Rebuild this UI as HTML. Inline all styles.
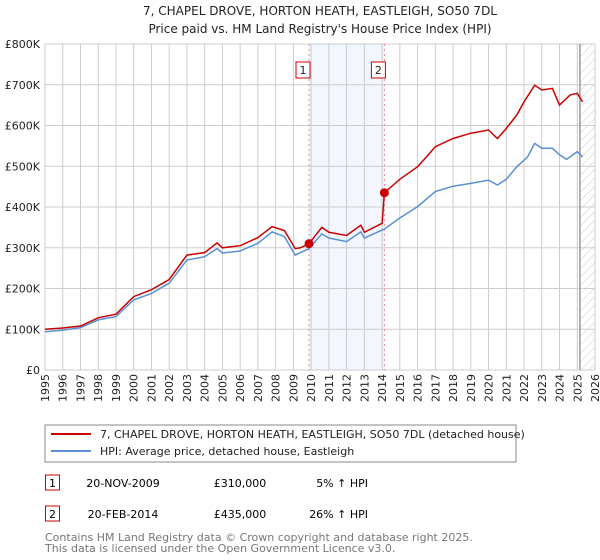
<!DOCTYPE html>
<html><head><meta charset="utf-8"><style>
body{margin:0;background:#fff;font-family:"DejaVu Sans","Liberation Sans",sans-serif;}
#wrap{position:relative;width:600px;height:560px;overflow:hidden}
svg text{font-family:"DejaVu Sans","Liberation Sans",sans-serif}
</style></head><body><div id="wrap">
<svg id="chart" width="600" height="560">
<defs><pattern id="hatch" width="6" height="6" patternUnits="userSpaceOnUse" patternTransform="rotate(45)"><line x1="0" y1="0" x2="0" y2="6" stroke="#ccc" stroke-width="1"/></pattern></defs>
<text x="320" y="15" font-size="12" text-anchor="middle" fill="#222">7, CHAPEL DROVE, HORTON HEATH, EASTLEIGH, SO50 7DL</text>
<text x="320" y="33" font-size="12" text-anchor="middle" fill="#222">Price paid vs. HM Land Registry's House Price Index (HPI)</text>
<g id="grid"></g><g id="marks"></g>
<rect x="45" y="425" width="471" height="37" fill="none" stroke="#888"/>
<line x1="51" y1="434" x2="91" y2="434" stroke="#cc0000" stroke-width="2"/>
<text x="100" y="438" font-size="11" fill="#222">7, CHAPEL DROVE, HORTON HEATH, EASTLEIGH, SO50 7DL (detached house)</text>
<line x1="51" y1="451" x2="91" y2="451" stroke="#5b8fd4" stroke-width="2"/>
<text x="100" y="455" font-size="11" fill="#222">HPI: Average price, detached house, Eastleigh</text>
<g>
<rect x="45.5" y="475" width="14" height="15" fill="#fff" stroke="#cc0000"/><text x="52.5" y="487" font-size="11" text-anchor="middle">1</text>
<text x="123" y="487" font-size="11" text-anchor="middle">20-NOV-2009</text>
<text x="240" y="487" font-size="11" text-anchor="middle">£310,000</text>
<text x="368" y="487" font-size="11" text-anchor="end">5% ↑ HPI</text></g>
<g>
<rect x="45.5" y="506" width="14" height="15" fill="#fff" stroke="#cc0000"/><text x="52.5" y="518" font-size="11" text-anchor="middle">2</text>
<text x="123" y="518" font-size="11" text-anchor="middle">20-FEB-2014</text>
<text x="240" y="518" font-size="11" text-anchor="middle">£435,000</text>
<text x="368" y="518" font-size="11" text-anchor="end">26% ↑ HPI</text></g>
<text x="45" y="541" font-size="11" fill="#777">Contains HM Land Registry data © Crown copyright and database right 2025.</text>
<text x="45" y="552" font-size="11" fill="#777">This data is licensed under the Open Government Licence v3.0.</text>
</svg></div>
<script>
const hpiYears=[1995,1996,1997,1998,1999,2000,2001,2002,2003,2004,2004.7,2005,2006,2007,2007.8,2008.5,2009.1,2009.4,2009.88,2010.6,2011,2012,2012.8,2013,2014.13,2015,2016,2017,2018,2019,2020,2020.5,2021,2021.6,2022.2,2022.6,2023,2023.6,2024,2024.4,2025,2025.3];
const hpiValues=[94,98,104,123,131,172,188,213,270,278,298,287,292,311,339,327,282,288,298,334,324,315,339,324,346,373,401,438,451,458,466,454,468,499,523,556,544,544,528,517,536,523];
const priceYears=[1995,1996,1997,1998,1999,2000,2001,2002,2003,2004,2004.7,2005,2006,2007,2007.8,2008.5,2009.1,2009.4,2009.88,2010.6,2011,2012,2012.8,2013,2014.0,2014.13,2015,2016,2016.5,2017,2018,2019,2020,2020.5,2021,2021.6,2022,2022.6,2023,2023.6,2024,2024.6,2025,2025.3];
const priceValues=[100,103,108,128,137,180,197,222,282,288,312,300,305,325,352,342,298,300,310,350,338,330,355,338,360,435,468,499,523,548,568,581,589,568,593,626,658,699,687,691,650,675,679,658];
const saleYears=[2009.88,2014.13];
const saleValues=[310,435];
const saleLabels=["1","2"];
const yTicks=[0,100,200,300,400,500,600,700,800];
const yTickLabels=["£0","£100K","£200K","£300K","£400K","£500K","£600K","£700K","£800K"];
const xTicks=[];for(let y=1995;y<=2026;y++)xTicks.push(y);

const X0=45,X1=595,Y0=370,Y1=44,T0=1995,T1=2026,V1=800;
const sx=t=>X0+(t-T0)/(T1-T0)*(X1-X0);
const sy=v=>Y0-v/V1*(Y0-Y1);
const NS="http://www.w3.org/2000/svg";
const grid=document.getElementById('grid'),marks=document.getElementById('marks');
function mk(tag,attrs,parent){const e=document.createElementNS(NS,tag);for(const k in attrs)e.setAttribute(k,attrs[k]);parent.appendChild(e);return e;}
// shaded region between sales
let r=mk('rect',{x:sx(saleYears[0]),y:Y1,width:sx(saleYears[1])-sx(saleYears[0]),height:Y0-Y1,fill:'#f2f6fe'},grid);


// hatched future region
let h=mk('rect',{x:sx(2025.2),y:Y1,width:X1-sx(2025.2),height:Y0-Y1,fill:'url(#hatch)'},grid);


xTicks.forEach(t=>{
  const l=mk('line',{x1:sx(t),x2:sx(t),y1:Y1,y2:Y0,stroke:'#ccc'},grid);
  
  
  const tx=mk('text',{x:0,y:0,'font-size':11,fill:'#222','text-anchor':'end',transform:`translate(${sx(t)+4},${Y0+4}) rotate(-90)`},grid);
  tx.textContent=t;
  
  
});
yTicks.forEach((v,i)=>{
  const l=mk('line',{x1:X0,x2:X1,y1:sy(v),y2:sy(v),stroke:'#ccc'},grid);
  
  
  const tx=mk('text',{x:X0-5,y:sy(v)+4,'font-size':11,fill:'#222','text-anchor':'end'},grid);
  tx.textContent=yTickLabels[i];
  
  
});
let vl=mk('line',{x1:sx(2025.15),x2:sx(2025.15),y1:Y1,y2:Y0,stroke:'#999','stroke-width':1.5},grid);


saleYears.forEach((t,i)=>{
  const l=mk('line',{x1:sx(t),x2:sx(t),y1:Y1,y2:Y0,stroke:'#e88','stroke-dasharray':'2,3'},grid);
  
  
  const g=mk('g',{},grid);
  
  
  mk('rect',{x:sx(t)-13,y:Y1+18,width:14,height:16,fill:'#fff',stroke:'#cc0000'},g);
  const tx=mk('text',{x:sx(t)-6,y:Y1+30,'font-size':11,'text-anchor':'middle',fill:'#222'},g);
  tx.textContent=saleLabels[i];
});
const line=(xs,vs)=>xs.map((t,i)=>(i?'L':'M')+sx(t).toFixed(1)+','+sy(vs[i]).toFixed(1)).join('');
let hp=mk('path',{d:line(hpiYears,hpiValues),fill:'none',stroke:'#5b8fd4','stroke-width':1.5},marks);


let pp=mk('path',{d:line(priceYears,priceValues),fill:'none',stroke:'#cc0000','stroke-width':1.5},marks);


saleYears.forEach((t,i)=>{
  const c=mk('circle',{cx:sx(t),cy:sy(saleValues[i]),r:4.5,fill:'#cc0000'},marks);
  
  
});
</script></body></html>
